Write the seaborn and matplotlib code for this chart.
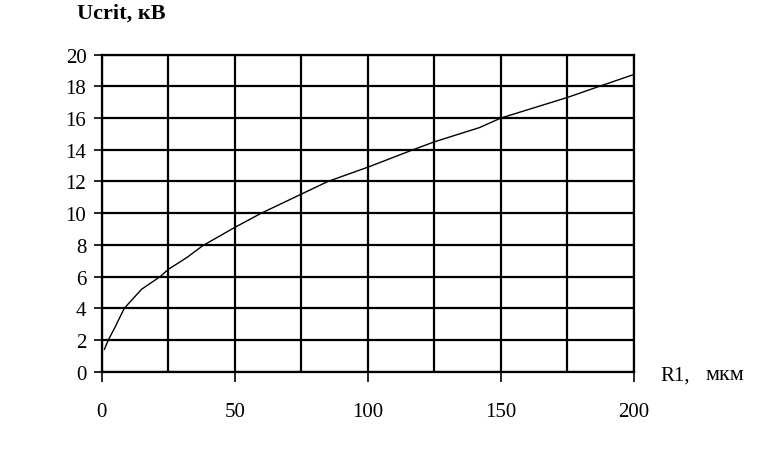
import matplotlib
matplotlib.use("Agg")
import matplotlib.pyplot as plt
import numpy as np
import pandas as pd
import seaborn as sns

# Data
r1 = [1, 2.5, 5, 8.5, 15, 22, 25, 32, 38, 50, 60, 75, 85, 100, 117, 125, 142, 150, 175, 187, 200]
ucrit = [1.4, 2.0, 2.8, 4.0, 5.2, 6.0, 6.45, 7.2, 7.95, 9.1, 10.0, 11.2, 12.0, 12.9, 14.0, 14.5, 15.4, 16.0, 17.3, 18.0, 18.75]
x_major = [0, 50, 100, 150, 200]
x_grid = [25, 75, 125, 175]
y_ticks = list(range(0, 21, 2))

sns.set_theme(style="white")
plt.rcParams['font.family'] = ['Liberation Serif', 'DejaVu Serif']

df = pd.DataFrame({"R1": r1, "Ucrit": ucrit})

fig = plt.figure(figsize=(7.72, 4.52), dpi=100)
ax = fig.add_axes([0.1317, 0.1755, 0.6893, 0.7013])

sns.lineplot(data=df, x="R1", y="Ucrit", ax=ax, color="black", linewidth=1.0, zorder=3)

ax.set_xlim(0, 200)
ax.set_ylim(0, 20)
ax.set_xticks(x_major)
ax.set_xticks(x_grid, minor=True)
ax.set_yticks(y_ticks)
ax.set_xticklabels([str(v) for v in x_major])
ax.set_yticklabels([str(v) for v in y_ticks])

ax.grid(which="both", color="black", linewidth=1.6, zorder=1)
ax.set_axisbelow(True)
for s in ax.spines.values():
    s.set_color("black")
    s.set_linewidth(1.6)

ax.tick_params(axis="x", which="major", bottom=True, direction="out", length=7, width=1.2,
               pad=15, labelsize=15, colors="black")
ax.tick_params(axis="x", which="minor", bottom=False, length=0)
ax.tick_params(axis="y", which="major", left=True, direction="out", length=6, width=1.2,
               pad=5, labelsize=15, colors="black")

ax.set_xlabel("")
ax.set_ylabel("")

fig.text(77 / 772, 1 - 14 / 452, "Ucrit, кВ", fontsize=16, fontweight="bold",
         ha="left", va="center", color="black")
fig.text(660 / 772, 1 - 376 / 452, "R1,", fontsize=15,
         ha="left", va="center", color="black")
fig.text(705 / 772, 1 - 376 / 452, "мкм", fontsize=16,
         ha="left", va="center", color="black")

fig.savefig("out.png", dpi=100)
